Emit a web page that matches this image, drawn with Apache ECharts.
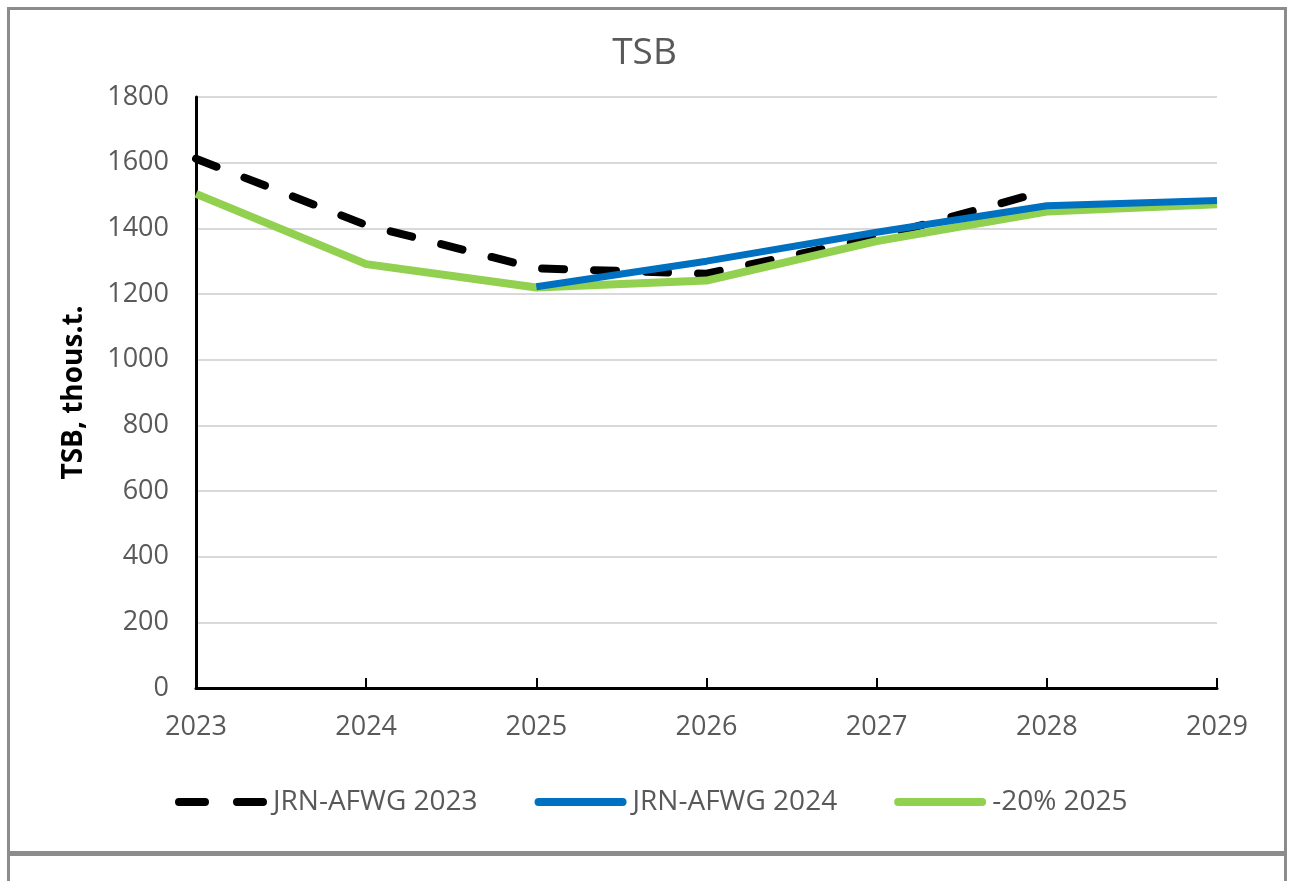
<!DOCTYPE html>
<html>
<head>
<meta charset="utf-8">
<script src="https://cdn.jsdelivr.net/npm/echarts@6/dist/echarts.min.js"></script>
<style>
  html, body { margin: 0; padding: 0; background: #fff; }
  #wrap { position: relative; width: 1289px; height: 881px; overflow: hidden; }
  .box { position: absolute; border: 3px solid #8c8c8c; box-sizing: border-box; }
  #chart { position: absolute; left: 0; top: 0; width: 1289px; height: 881px; }
</style>
</head>
<body>
<div id="wrap">
  <div class="box" style="left:7px; top:7px; width:1280px; height:847px;"></div>
  <div class="box" style="left:7px; top:853px; width:1280px; height:60px;"></div>
  <div id="chart"></div>
</div>
<script>
const years = ['2023', '2024', '2025', '2026', '2027', '2028', '2029'];
const seriesNames = ['JRN-AFWG 2023', 'JRN-AFWG 2024', '-20% 2025'];
const afwg2023 = [1612, 1410, 1278, 1262, 1372, 1515, null];
const afwg2024 = [null, null, 1222, 1300, 1388, 1469, 1485];
const minus20 = [1505, 1291, 1220, 1241, 1361, 1451, 1473];
const yTicks = { min: 0, max: 1800, interval: 200 };

const FONT = "'Open Sans', 'Liberation Sans', sans-serif";
const dashIcon = 'path://M4,0H30A4,4 0 0 1 30,8H4A4,4 0 0 1 4,0Z M62,0H88A4,4 0 0 1 88,8H62A4,4 0 0 1 62,0Z';
const solidIcon = 'path://M4,0H88A4,4 0 0 1 88,8H4A4,4 0 0 1 4,0Z';

const chart = echarts.init(document.getElementById('chart'), null, { renderer: 'canvas' });
chart.setOption({
  backgroundColor: 'transparent',
  animation: false,
  title: {
    text: 'TSB',
    left: 'center', top: 30,
    textStyle: { fontFamily: FONT, fontSize: 37, fontWeight: 'normal', color: '#595959' }
  },
  legend: {
    bottom: 60, left: 170,
    itemWidth: 92, itemHeight: 8, itemGap: 57,
    textStyle: { fontFamily: FONT, fontSize: 28, color: '#595959', padding: [0, 0, 0, 1] },
    data: [
      { name: seriesNames[0], icon: dashIcon, itemStyle: { color: '#000', borderWidth: 0 } },
      { name: seriesNames[1], icon: solidIcon, itemStyle: { color: '#0070C0', borderWidth: 0 } },
      { name: seriesNames[2], icon: solidIcon, itemStyle: { color: '#92D050', borderWidth: 0 } }
    ]
  },
  grid: { left: 196, right: 72, top: 97, bottom: 193, containLabel: false },
  xAxis: {
    type: 'category', data: years, boundaryGap: false,
    axisLine: { lineStyle: { color: '#000', width: 3 } },
    axisTick: { show: true, inside: true, length: 10, lineStyle: { color: '#000', width: 2 } },
    axisLabel: { fontFamily: FONT, fontSize: 27, color: '#595959', margin: 26 },
    splitLine: { show: false }
  },
  yAxis: {
    type: 'value', min: yTicks.min, max: yTicks.max, interval: yTicks.interval,
    name: 'TSB, thous.t.', nameLocation: 'middle', nameGap: 108, nameRotate: 90,
    nameTextStyle: { fontFamily: FONT, fontSize: 28, fontWeight: 'bold', color: '#000' },
    axisLine: { show: true, lineStyle: { color: '#000', width: 3 } },
    axisTick: { show: false },
    axisLabel: { fontFamily: FONT, fontSize: 27, color: '#595959', margin: 27, formatter: v => String(v) },
    splitLine: { lineStyle: { color: '#d9d9d9', width: 2 } }
  },
  series: [
    {
      name: seriesNames[0], type: 'line', data: afwg2023, showSymbol: false, symbol: 'none',
      lineStyle: { color: '#000', width: 8, type: [22, 30], cap: 'round' },
      itemStyle: { color: '#000' }, z: 1
    },
    {
      name: seriesNames[1], type: 'line', data: afwg2024, showSymbol: false, symbol: 'none',
      lineStyle: { color: '#0070C0', width: 7 },
      itemStyle: { color: '#0070C0' }, z: 3
    },
    {
      name: seriesNames[2], type: 'line', data: minus20, showSymbol: false, symbol: 'none',
      lineStyle: { color: '#92D050', width: 8 },
      itemStyle: { color: '#92D050' }, z: 2
    }
  ]
});
</script>
</body>
</html>
